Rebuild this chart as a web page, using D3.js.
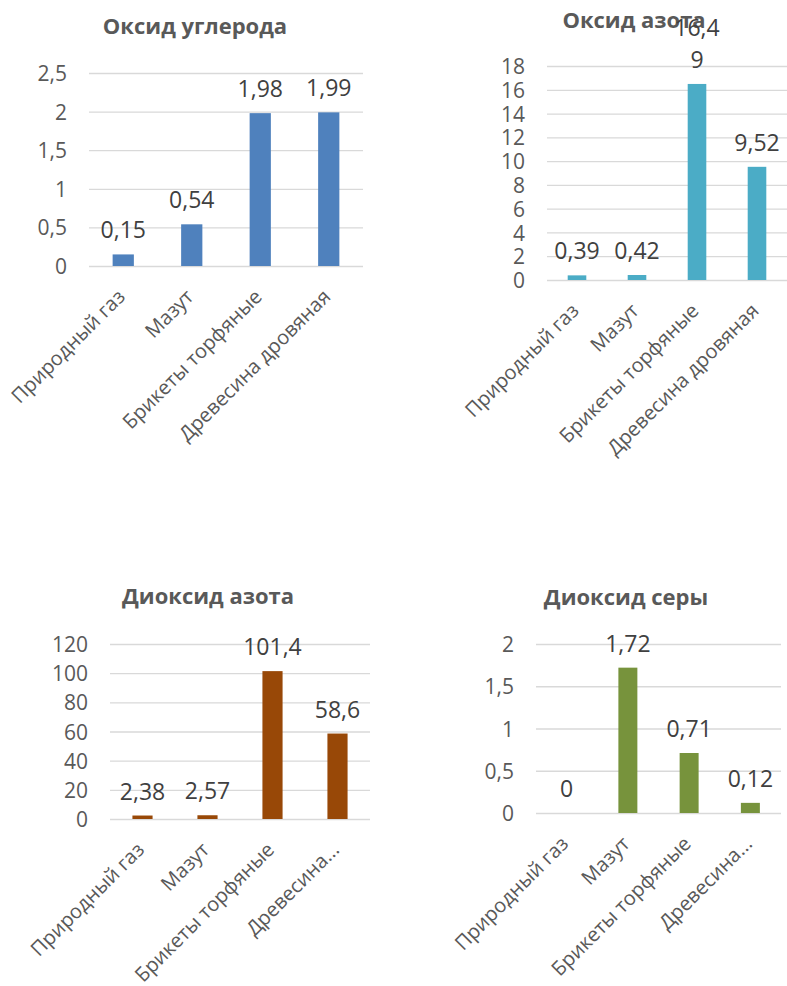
<!DOCTYPE html>
<html>
<head>
<meta charset="utf-8">
<script src="https://cdnjs.cloudflare.com/ajax/libs/d3/7.8.5/d3.min.js"></script>
<style>
  body { margin: 0; background: #fff; }
  text { font-family: "Open Sans", "DejaVu Sans", sans-serif; }
</style>
</head>
<body>
<div id="charts"></div>
<script>
// data
var categories = ["Природный газ", "Мазут", "Брикеты торфяные", "Древесина дровяная"];
var coValues = [0.15, 0.54, 1.98, 1.99];
var noValues = [0.39, 0.42, 16.49, 9.52];
var no2Values = [2.38, 2.57, 101.4, 58.6];
var so2Values = [0, 1.72, 0.71, 0.12];

var coTicks = [0, 0.5, 1, 1.5, 2, 2.5];
var noTicks = [0, 2, 4, 6, 8, 10, 12, 14, 16, 18];
var no2Ticks = [0, 20, 40, 60, 80, 100, 120];
var so2Ticks = [0, 0.5, 1, 1.5, 2];

var titles = ["Оксид углерода", "Оксид азота", "Диоксид азота", "Диоксид серы"];

var svgWidth = 787;
var svgHeight = 986;

var svg = d3.select("#charts")
    .append("svg")
    .attr("width", svgWidth)
    .attr("height", svgHeight);

svg.append("rect").attr("width", svgWidth).attr("height", svgHeight).attr("fill", "#fff");

// plot boxes: left, right, top (max tick), bottom (zero line)
var charts = [
    {title: titles[0], values: coValues, ticks: coTicks, color: "#4F81BD",
     box: {left: 89, right: 363, top: 73, bottom: 266}, titleX: 195, titleY: 34, maxLabel: null},
    {title: titles[1], values: noValues, ticks: noTicks, color: "#4BACC6",
     box: {left: 547, right: 787, top: 66, bottom: 280}, titleX: 634, titleY: 28, maxLabel: null},
    {title: titles[2], values: no2Values, ticks: no2Ticks, color: "#984807",
     box: {left: 110, right: 370, top: 644, bottom: 819}, titleX: 208, titleY: 604, maxLabel: 190},
    {title: titles[3], values: so2Values, ticks: so2Ticks, color: "#77933C",
     box: {left: 536, right: 781, top: 644, bottom: 813}, titleX: 626, titleY: 605, maxLabel: 190}
];

var fmt = function(v) { return String(v).replace(".", ","); };

charts.forEach(function(c) {
    var g = svg.append("g");

    var x = d3.scaleBand()
        .domain(categories)
        .range([c.box.left, c.box.right])
        .padding(0);

    var y = d3.scaleLinear()
        .domain([0, d3.max(c.ticks)])
        .range([c.box.bottom, c.box.top]);

    // title
    g.append("text")
        .attr("x", c.titleX)
        .attr("y", c.titleY)
        .attr("text-anchor", "middle")
        .style("font-size", "22px")
        .style("font-weight", "bold")
        .attr("fill", "#595959")
        .text(c.title);

    // gridlines + y labels
    var leftAxis = d3.axisLeft(y)
        .tickValues(c.ticks)
        .tickSize(-(c.box.right - c.box.left))
        .tickPadding(22)
        .tickFormat(fmt);

    var yAxis = g.append("g")
        .attr("transform", `translate(${c.box.left},0)`)
        .call(leftAxis);
    yAxis.select(".domain").remove();
    yAxis.selectAll("line").attr("stroke", "#D9D9D9").attr("stroke-width", 1.3);
    yAxis.selectAll("text")
        .attr("fill", "#595959")
        .style("font-size", "21px")
        .attr("dy", "0.36em");

    // bars
    var barW = x.bandwidth() * 0.31;
    g.selectAll("rect.bar")
        .data(c.values)
        .enter()
        .append("rect")
        .attr("class", "bar")
        .attr("x", (d, i) => x(categories[i]) + x.bandwidth() / 2 - barW / 2)
        .attr("y", d => y(d))
        .attr("width", barW)
        .attr("height", d => y(0) - y(d))
        .attr("fill", c.color);

    // value labels
    var labels = g.selectAll("text.val")
        .data(c.values)
        .enter()
        .append("text")
        .attr("class", "val")
        .attr("x", (d, i) => x(categories[i]) + x.bandwidth() / 2)
        .attr("y", d => y(d) - 16)
        .attr("text-anchor", "middle")
        .attr("fill", "#404040")
        .style("font-size", "23px")
        .text(d => fmt(d));

    // wrap labels wider than the band
    labels.each(function(d) {
        var t = d3.select(this);
        if (this.getComputedTextLength() > x.bandwidth() * 0.95) {
            var s = fmt(d);
            var cx = t.attr("x");
            t.text(null);
            t.append("tspan").attr("x", cx).attr("dy", "-32px").text(s.slice(0, s.length - 1));
            t.append("tspan").attr("x", cx).attr("dy", "32px").text(s.slice(s.length - 1));
        }
    });

    // category labels, rotated
    var catLabels = g.selectAll("text.cat")
        .data(categories)
        .enter()
        .append("text")
        .attr("class", "cat")
        .attr("text-anchor", "end")
        .attr("fill", "#595959")
        .style("font-size", "20px")
        .attr("transform", d => `translate(${x(d) + x.bandwidth() / 2 + 3},${c.box.bottom + 32}) rotate(-45)`)
        .text(d => d);

    if (c.maxLabel) {
        catLabels.each(function(d) {
            if (this.getComputedTextLength() > c.maxLabel) {
                var words = d.split(" ");
                var t = d3.select(this);
                while (words.length > 1 && this.getComputedTextLength() > c.maxLabel) {
                    words.pop();
                    t.text(words.join(" ") + "...");
                }
            }
        });
    }
});
</script>
</body>
</html>
